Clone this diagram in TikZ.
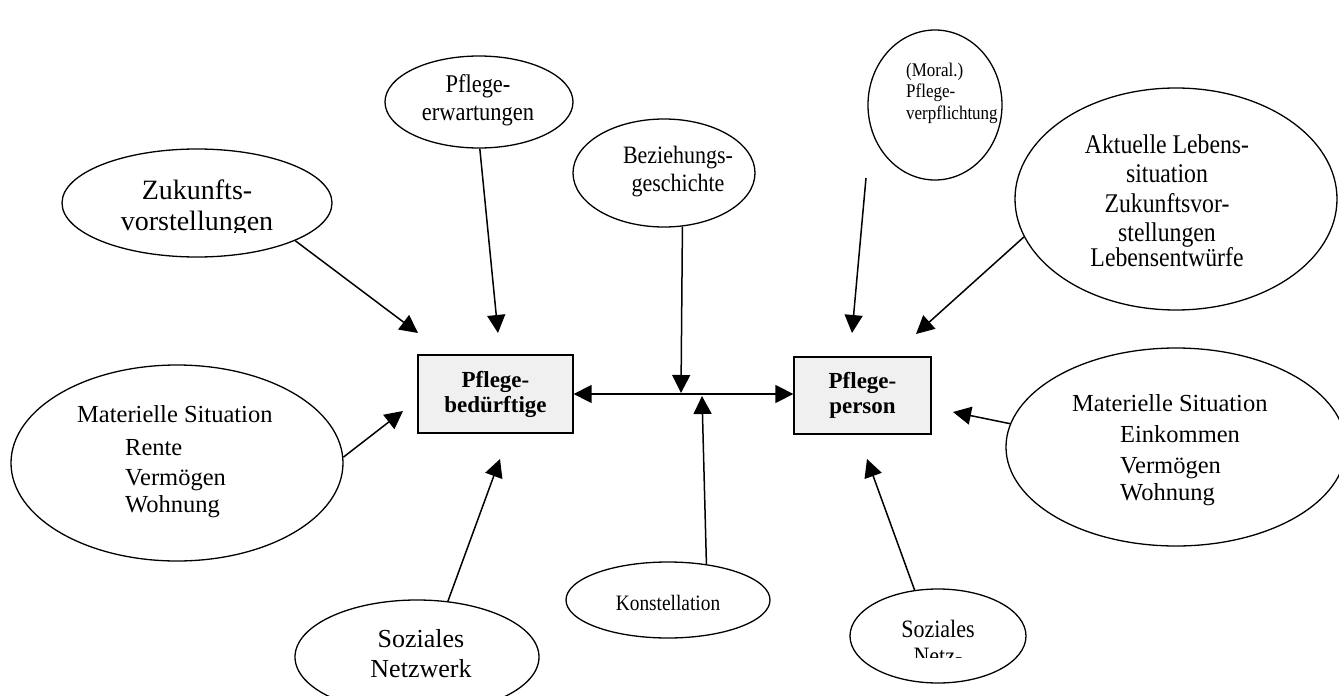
\documentclass[tikz,border=0pt]{standalone}
\usepackage{fontspec}
\setmainfont{Liberation Serif}
\newfontfamily\condfont{Liberation Serif}[FakeStretch=0.88]
\usetikzlibrary{arrows.meta,shapes.geometric}
\definecolor{boxgray}{HTML}{F0F0F0}
\begin{document}
\begin{tikzpicture}[x=1pt,y=-1pt,
  ell/.style={draw, ellipse, line width=1.3pt, inner sep=0pt},
  box/.style={draw, line width=1.3pt, fill=boxgray, inner sep=0pt, align=center,
    font=\fontsize{23}{25}\selectfont\bfseries},
  arr/.style={line width=1.5pt, -{Triangle[length=18pt,width=18pt]}},
  arrboth/.style={line width=1.5pt, {Triangle[length=18pt,width=18pt]}-{Triangle[length=18pt,width=18pt]}},
  txt/.style={inner sep=0pt, align=center}
]
\useasboundingbox (0,0) rectangle (1339,696);

% ellipses
\node[ell, minimum width=270pt, minimum height=108pt] (zuk) at (197,203) {};
\node[ell, minimum width=188pt, minimum height=92pt] (erw) at (479,102) {};
\node[ell, minimum width=182pt, minimum height=108pt] (bez) at (664,173) {};
\node[ell, minimum width=134pt, minimum height=150pt] (mor) at (935,105) {};
\node[ell, minimum width=322pt, minimum height=222pt] (akt) at (1176,199) {};
\node[ell, minimum width=332pt, minimum height=196pt] (mat1) at (177,463) {};
\node[ell, minimum width=340pt, minimum height=198pt] (mat2) at (1176,447) {};
\node[ell, minimum width=204pt, minimum height=76pt] (kon) at (668,600) {};
\node[ell, minimum width=244pt, minimum height=114pt] (soz1) at (417,657) {};
\node[ell, minimum width=176pt, minimum height=94pt] (soz2) at (938,636) {};

% boxes
\node[box, minimum width=155pt, minimum height=78pt] (pb) at (495.5,394) {Pflege-\\bedürftige};
\node[box, minimum width=137pt, minimum height=77pt] (pp) at (862.5,395.5) {Pflege-\\person};

% texts
\begin{scope}
\clip (0,0) rectangle (1339,232);
\node[txt, font=\fontsize{28}{30.5}\selectfont] (zukT) at (197,208) {Zukunfts-\\vorstellungen};
\end{scope}
\node[txt, font=\condfont\fontsize{25.5}{28}\selectfont] (erwT) at (478,100.5) {Pflege-\\erwartungen};
\node[txt, font=\condfont\fontsize{25}{28}\selectfont] (bezT) at (678,172) {Beziehungs-\\geschichte};
\node[txt, align=left, anchor=west, font=\condfont\fontsize{19.3}{21.5}\selectfont] (morT) at (906,93) {(Moral.)\\Pflege-\\verpflichtung};
\node[txt, font=\condfont\fontsize{27}{29.5}\selectfont] (aktT) at (1167,201) {Aktuelle Lebens-\\situation\\Zukunftsvor-\\stellungen\\[-4.5pt]Lebensentwürfe};
\node[txt, align=left, anchor=west, font=\fontsize{24.5}{30}\selectfont] (mat1T) at (77,462) {Materielle Situation\\[3pt]\hspace*{48pt}Rente\\\hspace*{48pt}Vermögen\\[-3pt]\hspace*{48pt}Wohnung};
\node[txt, align=left, anchor=west, font=\fontsize{24.5}{31}\selectfont] (mat2T) at (1072,450) {Materielle Situation\\\hspace*{48pt}Einkommen\\\hspace*{48pt}Vermögen\\[-4pt]\hspace*{48pt}Wohnung};
\node[txt, font=\condfont\fontsize{22}{25}\selectfont] (konT) at (668,603) {Konstellation};
\node[txt, font=\fontsize{26}{30}\selectfont] (soz1T) at (421,654) {Soziales\\Netzwerk};
\begin{scope}
\clip (0,0) rectangle (1339,657);
\node[txt, font=\condfont\fontsize{25}{27}\selectfont] (soz2T) at (938,642) {Soziales\\Netz-};
\end{scope}

% arrow end points
\coordinate (tzuk) at (418,333);
\coordinate (terw) at (498,333);
\coordinate (tbez) at (681,393);
\coordinate (morS) at (866,178);
\coordinate (tmor) at (852,333);
\coordinate (takt) at (916,334);
\coordinate (tmat1) at (403,411);
\coordinate (tsoz1) at (500,459);
\coordinate (tmat2) at (953,412);
\coordinate (tsoz2) at (867,459);
\coordinate (tkon) at (702,396);

% connectors
\draw[arr] (zuk.-21.4) -- (tzuk);
\draw[arr] (erw.-89) -- (terw);
\draw[arr] (bez.-71.6) -- (tbez);
\draw[arr] (morS) -- (tmor);
\draw[arr] (akt.-166.2) -- (takt);
\draw[arr] (mat1.2.1) -- (tmat1);
\draw[arr] (mat2.172.9) -- (tmat2);
\draw[arr] (soz1.61.5) -- (tsoz1);
\draw[arr] (soz2.117.5) -- (tsoz2);
\draw[arr] (kon.43.5) -- (tkon);
\draw[arrboth] (pb.east) -- (pb.east -| pp.west);
\end{tikzpicture}
\end{document}
